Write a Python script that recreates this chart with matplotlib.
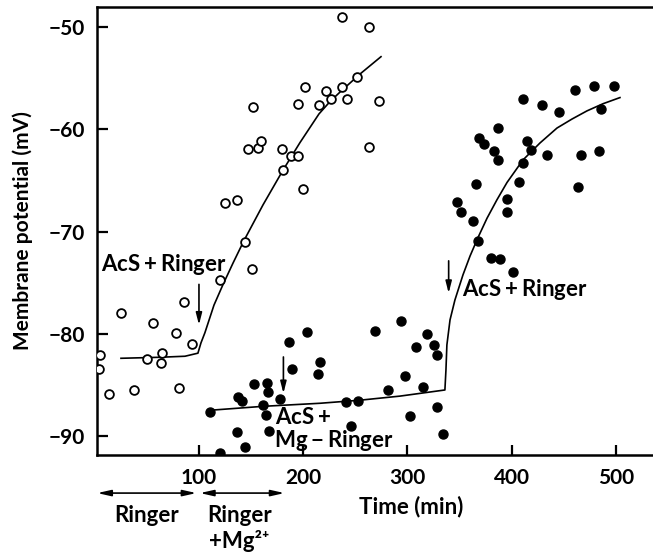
import matplotlib
matplotlib.use("Agg")
import matplotlib.pyplot as plt
import matplotlib.transforms as mtransforms

plt.rcParams['font.family'] = ['Lato', 'DejaVu Sans']
plt.rcParams['font.weight'] = 'bold'

# Open circles: Ringer, then AcS + Ringer
open_t = [5.0, 4.1, 13.7, 25.2, 37.7, 50.1, 55.9, 63.6, 64.5, 77.9, 80.8, 85.6, 93.3,
          120.1, 124.9, 136.4, 144.1, 150.8, 147.0, 151.8, 156.6, 159.5, 179.6, 180.6,
          188.2, 194.9, 199.7, 194.9, 201.6, 215.1, 221.8, 226.6, 237.2, 242.0, 251.5,
          237.2, 263.1, 272.7, 263.1]
open_v = [-82.1, -83.4, -85.9, -78.0, -85.5, -82.5, -78.9, -82.9, -81.9, -79.9, -85.3, -76.9, -81.0,
          -74.7, -67.2, -66.9, -71.0, -73.7, -61.9, -57.8, -61.8, -61.1, -61.9, -64.0,
          -62.6, -62.6, -65.8, -57.5, -55.9, -57.6, -56.3, -57.0, -55.9, -57.0, -54.9,
          -49.0, -50.0, -57.2, -61.7]

# Filled circles: Ringer + Mg, AcS + Mg-Ringer, then AcS + Ringer
fill_t = [110.6, 120.1, 136.4, 144.1, 137.4, 141.2, 152.7, 165.2, 166.2, 161.4, 164.3, 167.1,
          177.7, 186.3, 189.2, 203.6, 216.1, 214.1, 241.0, 252.5, 245.8, 268.8, 293.7, 281.3,
          297.6, 302.4, 308.1, 318.7, 325.4, 328.3, 314.9, 328.3, 334.1,
          347.5, 351.3, 362.8, 367.6, 380.1, 388.7, 401.2, 365.7, 368.6, 373.4, 383.0, 386.8,
          386.8, 395.5, 395.5, 407.0, 410.8, 410.8, 414.6, 418.5, 429.0, 433.8, 445.3, 460.6,
          463.5, 466.4, 478.9, 483.7, 485.6, 498.1]
fill_v = [-87.7, -91.7, -89.6, -91.1, -86.2, -86.6, -84.9, -84.8, -85.7, -87.0, -87.9, -89.5,
          -86.4, -80.8, -83.4, -79.8, -82.8, -83.9, -86.7, -86.6, -89.0, -79.7, -78.8, -85.5,
          -84.1, -88.0, -81.3, -80.0, -81.1, -82.1, -85.2, -87.2, -89.8,
          -67.1, -68.1, -69.0, -70.9, -72.6, -72.7, -74.0, -65.4, -60.9, -61.4, -62.1, -63.0,
          -59.9, -66.8, -68.1, -65.2, -63.3, -57.0, -61.1, -62.0, -57.6, -62.5, -58.3, -56.2,
          -65.6, -62.5, -55.8, -62.1, -58.0, -55.8]

# Hand-drawn trend curves
open_curve_t = [25.2, 62.6, 86.6, 99.0, 101.9, 105.7, 114.4, 123.0, 132.6, 143.1, 161.4, 180.6,
                196.9, 215.1, 225.6, 235.3, 254.4, 274.6]
open_curve_v = [-82.4, -82.3, -82.2, -81.9, -80.9, -79.9, -77.2, -75.2, -73.1, -70.9, -67.4, -64.0,
                -61.3, -58.5, -57.3, -56.36, -54.6, -52.9]
fill_curve_t = [108.6, 161.4, 216.1, 254.4, 292.8, 335.9, 336.9, 337.8, 340.8, 345.5, 353.2,
                360.0, 367.6, 376.3, 385.8, 395.5, 410.8, 427.1, 443.4, 457.8, 472.2, 487.6, 503.8]
fill_curve_v = [-87.5, -87.1, -86.8, -86.5, -86.1, -85.5, -83.55, -81.1, -78.65, -76.7, -74.25,
                -72.4, -70.6, -68.7, -66.9, -65.2, -63.0, -61.34, -59.88, -59.0, -58.2, -57.5, -56.9]

x_ticks = [100, 200, 300, 400, 500]
y_ticks = [-50, -60, -70, -80, -90]

fig = plt.figure(figsize=(6.53, 5.54), dpi=100)
ax = fig.add_axes([97 / 653, 1 - 455 / 554, 1 - 97 / 653, 448 / 554])
ax.set_xlim(2.2, 535.5)
ax.set_ylim(-91.86, -48.04)

ax.plot(open_curve_t, open_curve_v, color='black', lw=1.2, zorder=2)
ax.plot(fill_curve_t, fill_curve_v, color='black', lw=1.2, zorder=2)
ax.plot(open_t, open_v, 'o', ms=6.3, mfc='white', mec='black', mew=1.3, zorder=3)
ax.plot(fill_t, fill_v, 'o', ms=6.5, mfc='black', mec='black', zorder=3)

for side in ['left', 'bottom', 'top']:
    ax.spines[side].set_linewidth(1.8)
ax.spines['right'].set_visible(False)

ax.set_xticks(x_ticks)
ax.set_yticks(y_ticks)
ax.tick_params(axis='both', direction='in', width=1.6, labelsize=15)
ax.tick_params(axis='y', length=8, pad=9)
ax.tick_params(axis='x', length=7, pad=9)
for lab in ax.get_xticklabels() + ax.get_yticklabels():
    lab.set_fontweight('bold')

ax.set_ylabel('Membrane potential (mV)', fontsize=15, fontweight='bold', labelpad=11)

arrow_kw = dict(arrowstyle='-|>,head_length=0.7,head_width=0.18', color='black', lw=1.2)
text_kw = dict(fontsize=16, fontweight='bold')

# Solution changes
ax.annotate('', xy=(100, -79.4), xytext=(100, -74.9), arrowprops=arrow_kw)
ax.text(6, -73.85, 'AcS$\\,$+$\\,$Ringer', ha='left', va='baseline', **text_kw)

ax.annotate('', xy=(181, -86.1), xytext=(181, -82.0), arrowprops=arrow_kw)
ax.text(173, -88.85, 'AcS$\\,$+', ha='left', va='baseline', **text_kw)
ax.text(172, -91.1, 'Mg$\\,$\u2212$\\,$Ringer', ha='left', va='baseline', **text_kw)

ax.annotate('', xy=(339.5, -76.3), xytext=(339.5, -72.6), arrowprops=arrow_kw)
ax.text(352.5, -76.3, 'AcS$\\,$+$\\,$Ringer', ha='left', va='baseline', **text_kw)

# Time axis title and perfusion periods below the axis
trans = mtransforms.blended_transform_factory(ax.transData, ax.transAxes)
ax.text(304, -0.116, 'Time (min)', transform=trans, ha='center', va='center',
        fontsize=16, fontweight='bold')

span_kw = dict(arrowstyle='<|-|>,head_length=0.8,head_width=0.18', color='black', lw=1.2,
               shrinkA=0, shrinkB=0)
ax.annotate('', xy=(2.5, -0.085), xytext=(97.5, -0.085), xycoords=trans, textcoords=trans,
            arrowprops=span_kw, annotation_clip=False)
ax.annotate('', xy=(101, -0.085), xytext=(182, -0.085), xycoords=trans, textcoords=trans,
            arrowprops=span_kw, annotation_clip=False)
ax.text(50, -0.135, 'Ringer', transform=trans, ha='center', va='center', **text_kw)
ax.text(139, -0.135, 'Ringer', transform=trans, ha='center', va='center', **text_kw)
ax.text(139, -0.192, '+Mg\u00b2\u207a', transform=trans, ha='center', va='center', **text_kw)

fig.savefig('out.png', dpi=100)
